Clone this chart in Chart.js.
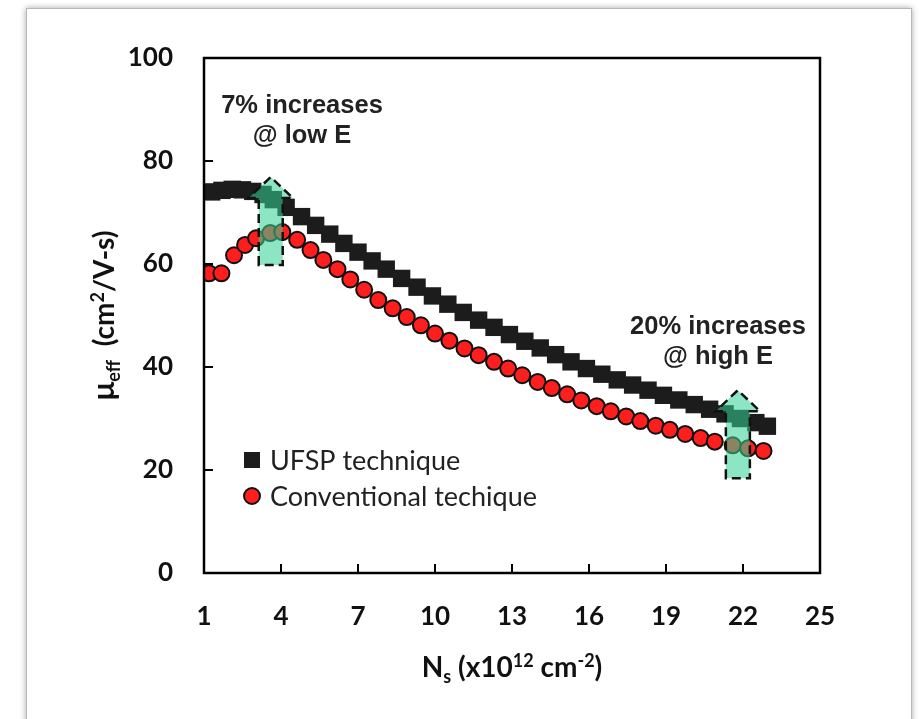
<!DOCTYPE html>
<html>
<head>
<meta charset="utf-8">
<script src="https://cdn.jsdelivr.net/npm/chart.js@4.4.1/dist/chart.umd.min.js"></script>
<style>
  html, body { margin: 0; padding: 0; background: #fff; overflow: hidden; }
  #frame { position: absolute; left: 26px; top: 8px; width: 884px; height: 740px;
           border: 1.5px solid #b8b8b8; box-shadow: 0 0 6px rgba(0,0,0,0.35); background: #fff; }
  #wrap { position: absolute; left: 0; top: 0; width: 922px; height: 719px; }
</style>
</head>
<body>
<div id="frame"></div>
<div id="wrap"><canvas id="chart" width="922" height="719"></canvas></div>
<script>
// N_s (x10^12 cm^-2) and mu_eff (cm^2/V-s)
const ufspX = [1.3, 1.7, 2.1, 2.5, 2.9, 3.3, 3.7, 4.2, 4.8, 5.35, 5.9, 6.45, 7.0, 7.55, 8.1, 8.7, 9.3, 9.9,
  10.5, 11.1, 11.7, 12.3, 12.9, 13.5, 14.1, 14.7, 15.3, 15.9, 16.5, 17.1, 17.7, 18.3, 18.9, 19.5, 20.1,
  20.7, 21.3, 21.9, 22.5, 22.95];
const ufspY = [74.0, 74.3, 74.5, 74.4, 74.1, 73.5, 72.5, 71.0, 69.2, 67.5, 65.8, 64.0, 62.3, 60.6, 59.0,
  57.2, 55.5, 53.8, 52.2, 50.6, 49.1, 47.7, 46.3, 45.0, 43.7, 42.4, 41.0, 39.7, 38.6, 37.5, 36.5, 35.5,
  34.5, 33.6, 32.7, 31.8, 30.9, 30.0, 29.2, 28.5];

const convX = [1.2, 1.68, 2.17, 2.6, 3.03, 3.58, 4.05, 4.63, 5.15, 5.65, 6.2, 6.7, 7.24, 7.79, 8.35, 8.9,
  9.45, 10.0, 10.56, 11.15, 11.7, 12.3, 12.85, 13.4, 14.0, 14.55, 15.15, 15.7, 16.3, 16.85, 17.45, 18.0,
  18.6, 19.15, 19.75, 20.35, 20.9, 21.6, 22.2, 22.8];
const convY = [58.2, 58.2, 61.7, 63.7, 65.0, 66.0, 66.2, 64.7, 62.7, 60.8, 59.0, 57.0, 55.0, 53.0, 51.4,
  49.7, 48.1, 46.5, 45.1, 43.6, 42.3, 41.0, 39.7, 38.4, 37.1, 35.9, 34.7, 33.5, 32.4, 31.4, 30.4, 29.5,
  28.6, 27.8, 27.0, 26.2, 25.5, 24.8, 24.2, 23.7];

const xTicks = [1, 4, 7, 10, 13, 16, 19, 22, 25];
const yTicks = [0, 20, 40, 60, 80, 100];

const seriesNames = ['UFSP technique', 'Conventional techique'];

// the two "increase" arrows: where they stand and from/to which mobility
const arrowX = [3.6, 21.8];
const arrowFrom = [59.8, 18.4];
const arrowTo = [76.9, 35.5];
const noteText = [['7% increases', '@ low E'], ['20% increases', '@ high E']];

const toPoints = (xs, ys) => xs.map((v, i) => ({ x: v, y: ys[i] }));

// note placement (pixels relative to chart area) -- style, not data
const notePos = [{ dx: 98, dy: 55 }, { dx: 514, dy: 276 }];

function richText(ctx, parts, cx, cy) {
  let w = 0;
  parts.forEach(p => { ctx.font = 'bold ' + p[1] + 'px Lato'; w += ctx.measureText(p[0]).width; });
  let xx = cx - w / 2;
  ctx.textAlign = 'left';
  ctx.textBaseline = 'alphabetic';
  parts.forEach(p => {
    ctx.font = 'bold ' + p[1] + 'px Lato';
    ctx.fillText(p[0], xx, cy + p[2]);
    xx += ctx.measureText(p[0]).width;
  });
}

const extras = {
  id: 'extras',
  afterDatasetsDraw(chart) {
    const { ctx, chartArea: a, scales: { x, y } } = chart;
    ctx.save();

    // arrows
    arrowX.forEach((v, i) => {
      const cx = x.getPixelForValue(v);
      const yb = y.getPixelForValue(arrowFrom[i]);
      const yt = y.getPixelForValue(arrowTo[i]);
      const yh = yt + 21;
      ctx.beginPath();
      ctx.moveTo(cx - 12, yb);
      ctx.lineTo(cx - 12, yh);
      ctx.lineTo(cx - 22, yh);
      ctx.lineTo(cx, yt);
      ctx.lineTo(cx + 22, yh);
      ctx.lineTo(cx + 12, yh);
      ctx.lineTo(cx + 12, yb);
      ctx.closePath();
      ctx.fillStyle = 'rgba(50,210,150,0.56)';
      ctx.fill();
      ctx.setLineDash([9, 5]);
      ctx.lineWidth = 2.5;
      ctx.strokeStyle = '#111';
      ctx.stroke();
    });
    ctx.setLineDash([]);

    // plot frame + inward ticks
    ctx.strokeStyle = '#000';
    ctx.lineWidth = 2.5;
    ctx.strokeRect(a.left, a.top, a.right - a.left, a.bottom - a.top);
    ctx.lineWidth = 2;
    x.ticks.forEach(t => {
      if (t.value <= x.min || t.value >= x.max) return;
      const px = x.getPixelForValue(t.value);
      ctx.beginPath(); ctx.moveTo(px, a.bottom); ctx.lineTo(px, a.bottom - 9); ctx.stroke();
    });
    y.ticks.forEach(t => {
      if (t.value <= y.min || t.value >= y.max) return;
      const py = y.getPixelForValue(t.value);
      ctx.beginPath(); ctx.moveTo(a.left, py); ctx.lineTo(a.left + 9, py); ctx.stroke();
    });

    // notes
    ctx.fillStyle = '#222';
    ctx.font = 'bold 25.5px "Liberation Sans", Arial';
    ctx.textAlign = 'center';
    ctx.textBaseline = 'alphabetic';
    noteText.forEach((lines, i) => {
      lines.forEach((s, j) => ctx.fillText(s, a.left + notePos[i].dx, a.top + notePos[i].dy + j * 30));
    });

    // legend
    const ds = chart.data.datasets;
    ctx.textAlign = 'left';
    ctx.textBaseline = 'middle';
    ctx.font = '27px Lato';
    const lx = a.left + 48, ly = a.top + 402;
    ctx.fillStyle = ds[0].backgroundColor;
    ctx.fillRect(lx - 8, ly - 8, 16, 16);
    ctx.beginPath();
    ctx.arc(lx, ly + 36, 8, 0, Math.PI * 2);
    ctx.fillStyle = ds[1].backgroundColor;
    ctx.fill();
    ctx.lineWidth = 2;
    ctx.strokeStyle = ds[1].borderColor;
    ctx.stroke();
    ctx.fillStyle = '#222';
    ctx.fillText(ds[0].label, lx + 18, ly + 1);
    ctx.fillText(ds[1].label, lx + 18, ly + 37);

    // axis titles
    ctx.fillStyle = '#111';
    richText(ctx, [['N', 28, 0], ['s', 18, 6], [' (x10', 28, 0], ['12', 18, -10], [' cm', 28, 0], ['-2', 18, -10], [')', 28, 0]],
      (a.left + a.right) / 2, a.bottom + 104);
    ctx.save();
    ctx.translate(a.left - 90, (a.top + a.bottom) / 2);
    ctx.rotate(-Math.PI / 2);
    richText(ctx, [['\u03bc', 31, 0], ['eff', 18, 6], ['  (cm', 28, 0], ['2', 18, -10], ['/V-s)', 28, 0]], 0, 0);
    ctx.restore();

    ctx.restore();
  }
};

new Chart(document.getElementById('chart'), {
  type: 'scatter',
  data: {
    datasets: [
      {
        label: seriesNames[0],
        data: toPoints(ufspX, ufspY),
        pointStyle: 'rect',
        pointRadius: 12.3,
        pointHoverRadius: 12.3,
        backgroundColor: '#1c1c1c',
        borderColor: '#1c1c1c',
        borderWidth: 0,
        order: 2
      },
      {
        label: seriesNames[1],
        data: toPoints(convX, convY),
        pointStyle: 'circle',
        pointRadius: 8,
        pointHoverRadius: 8,
        backgroundColor: '#ff1e1e',
        borderColor: '#111',
        borderWidth: 2,
        order: 1
      }
    ]
  },
  options: {
    responsive: false,
    animation: false,
    events: [],
    layout: { padding: { left: 0, top: 58, right: 102, bottom: 0 } },
    plugins: { legend: { display: false }, tooltip: { enabled: false } },
    scales: {
      x: {
        type: 'linear',
        min: xTicks[0],
        max: xTicks[xTicks.length - 1],
        afterBuildTicks: s => { s.ticks = xTicks.map(v => ({ value: v })); },
        afterFit: s => { s.height = 146; },
        grid: { display: false, drawTicks: false },
        border: { display: false },
        ticks: { padding: 28, color: '#111', font: { family: 'Lato', weight: 'bold', size: 26 } }
      },
      y: {
        min: yTicks[0],
        max: yTicks[yTicks.length - 1],
        afterBuildTicks: s => { s.ticks = yTicks.map(v => ({ value: v })); },
        afterFit: s => { s.width = 204; },
        grid: { display: false, drawTicks: false },
        border: { display: false },
        ticks: { padding: 31, color: '#111', font: { family: 'Lato', weight: 'bold', size: 26 } }
      }
    }
  },
  plugins: [extras]
});
</script>
</body>
</html>
